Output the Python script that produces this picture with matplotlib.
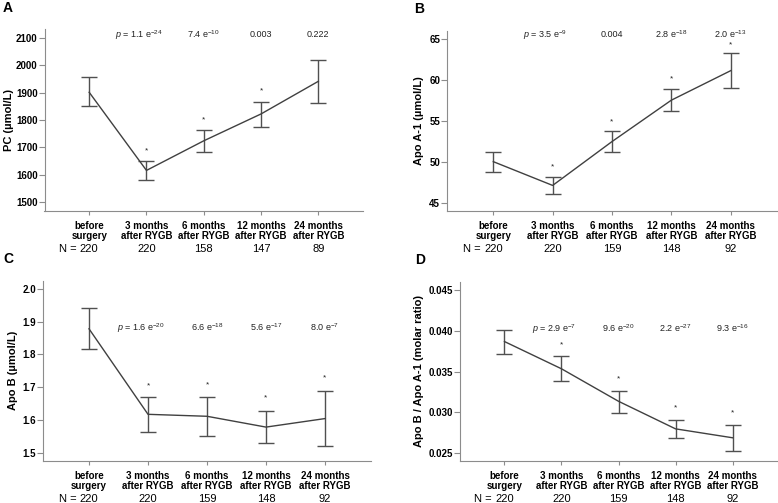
import matplotlib
matplotlib.use('Agg')
import matplotlib.pyplot as plt
import numpy as np

plt.rcParams['font.family'] = ['Liberation Sans', 'DejaVu Sans']
plt.rcParams['mathtext.fontset'] = 'custom'
plt.rcParams['mathtext.rm'] = 'Liberation Sans'
plt.rcParams['mathtext.it'] = 'Liberation Sans:italic'

# Tidspunkter og antall pasienter
kategorier = ['before\nsurgery', '3 months\nafter RYGB', '6 months\nafter RYGB',
              '12 months\nafter RYGB', '24 months\nafter RYGB']

# Panel A: PC
pc_snitt = [1901, 1616, 1724, 1822, 1941]
pc_lav = [1850, 1580, 1682, 1774, 1863]
pc_hoy = [1956, 1651, 1765, 1867, 2018]
pc_stjerne = [None, 1689, 1799, 1905, None]
pc_p = ['1.1 e$^{-24}$', '7.4 e$^{-10}$', '0.003', '0.222']
pc_n = [220, 220, 158, 147, 89]

# Panel B: Apo A-1
a1_snitt = [50.0, 47.1, 52.45, 57.5, 61.1]
a1_lav = [48.7, 46.0, 51.2, 56.2, 59.0]
a1_hoy = [51.2, 48.1, 53.7, 58.9, 63.3]
a1_stjerne = [None, 49.4, 54.9, 60.1, 64.3]
a1_p = ['3.5 e$^{-9}$', '0.004', '2.8 e$^{-18}$', '2.0 e$^{-13}$']
a1_n = [220, 220, 159, 148, 92]

# Panel C: Apo B
b_snitt = [1.878, 1.617, 1.611, 1.578, 1.604]
b_lav = [1.817, 1.562, 1.552, 1.529, 1.520]
b_hoy = [1.941, 1.671, 1.669, 1.628, 1.688]
b_stjerne = [None, 1.705, 1.708, 1.668, 1.727]
b_p = ['1.6 e$^{-20}$', '6.6 e$^{-18}$', '5.6 e$^{-17}$', '8.0 e$^{-7}$']
b_n = [220, 220, 159, 148, 92]

# Panel D: Apo B / Apo A-1
r_snitt = [0.03867, 0.03534, 0.03137, 0.02800, 0.02691]
r_lav = [0.0371, 0.03384, 0.02995, 0.02691, 0.02524]
r_hoy = [0.0401, 0.03685, 0.03267, 0.0291, 0.02853]
r_stjerne = [None, 0.03827, 0.03409, 0.03056, 0.0299]
r_p = ['2.9 e$^{-7}$', '9.6 e$^{-20}$', '2.2 e$^{-27}$', '9.3 e$^{-16}$']
r_n = [220, 220, 159, 148, 92]

LINJE = '#404040'
AKSE = '#8c8c8c'

fig = plt.figure(figsize=(7.78, 5.03), dpi=100)
W, H = 778, 503


def lag_akse(venstre, hoyre, topp, bunn):
    return fig.add_axes([venstre / W, 1 - bunn / H, (hoyre - venstre) / W, (bunn - topp) / H])


def tegn(ax, snitt, lav, hoy, stjerne, pverdier, py, n, ylabel, yticks, yfmt, ylim, bokstav,
         labelx, bokstavx):
    x = np.arange(len(snitt))
    snitt = np.array(snitt)
    feil = [snitt - np.array(lav), np.array(hoy) - snitt]
    ax.errorbar(x, snitt, yerr=feil, color=LINJE, ecolor='#505050', lw=1.0,
                elinewidth=1.0, capsize=5.5, capthick=1.0)
    for i, s in enumerate(stjerne):
        if s is not None:
            ax.text(i, s, '*', ha='center', va='center', fontsize=6, color='#222222')
    for i, p in enumerate(pverdier):
        t = ax.text(i + 1, py, p, ha='center', va='center', fontsize=6.5, color='#222222')
        if i == 0:
            ax.annotate('$p$ = ', xy=(0, 0.42), xycoords=t, ha='right', va='center',
                        fontsize=6.5, color='#222222')
    for i, v in enumerate(n):
        t = ax.annotate(str(v), xy=(i, 0), xycoords=('data', 'axes fraction'),
                        xytext=(0, -27.5), textcoords='offset points',
                        ha='center', va='center', fontsize=8)
        if i == 0:
            ax.annotate('N = ', xy=(0, 0.5), xycoords=t, ha='right', va='center', fontsize=8)

    ax.set_xlim(-0.78, 4.78)
    ax.set_ylim(*ylim)
    ax.set_xticks(x)
    ax.set_xticklabels(kategorier, fontsize=7, fontweight='bold', linespacing=0.95)
    ax.set_yticks(yticks)
    ax.set_yticklabels([yfmt.format(v) for v in yticks], fontsize=7, fontweight='bold')
    ax.set_ylabel(ylabel, fontsize=8, fontweight='bold')
    ax.yaxis.set_label_coords(labelx, 0.5)
    for side in ['top', 'right']:
        ax.spines[side].set_visible(False)
    for side in ['left', 'bottom']:
        ax.spines[side].set_color(AKSE)
        ax.spines[side].set_linewidth(0.8)
    ax.tick_params(axis='y', length=4, width=0.8, color=AKSE, pad=1)
    ax.tick_params(axis='x', length=3, width=0.8, color=AKSE, pad=4.5)
    ax.text(bokstavx, 1.12, bokstav, transform=ax.transAxes, fontsize=10,
            fontweight='bold', ha='left', va='center')


axA = lag_akse(44.5, 363, 29.5, 211)
tegn(axA, pc_snitt, pc_lav, pc_hoy, pc_stjerne, pc_p, 2112, pc_n, 'PC (µmol/L)',
     [1500, 1600, 1700, 1800, 1900, 2000, 2100], '{:.0f}', (1468, 2130), 'A',
     -0.096, -0.13)

axB = lag_akse(447, 777, 30.5, 211)
tegn(axB, a1_snitt, a1_lav, a1_hoy, a1_stjerne, a1_p, 65.5, a1_n, 'Apo A-1 (µmol/L)',
     [45, 50, 55, 60, 65], '{:.0f}', (43.98, 66.0), 'B',
     -0.07, -0.1)

axC = lag_akse(43, 371, 280.5, 461)
tegn(axC, b_snitt, b_lav, b_hoy, b_stjerne, b_p, 1.882, b_n, 'Apo B (µmol/L)',
     [1.5, 1.6, 1.7, 1.8, 1.9, 2.0], '{:.1f}', (1.4745, 2.0255), 'C',
     -0.076, -0.12)

axD = lag_akse(460, 777, 281.5, 461)
tegn(axD, r_snitt, r_lav, r_hoy, r_stjerne, r_p, 0.0403, r_n, 'Apo B / Apo A-1 (molar ratio)',
     [0.025, 0.030, 0.035, 0.040, 0.045], '{:.3f}', (0.02407, 0.04601), 'D',
     -0.112, -0.14)

fig.savefig('out.png', dpi=100)
